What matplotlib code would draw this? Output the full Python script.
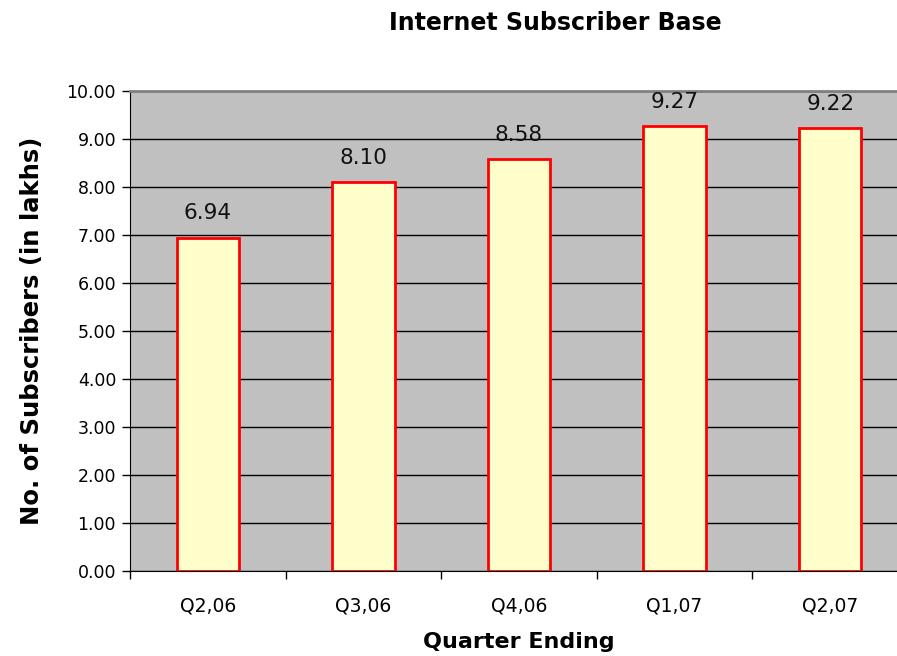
import matplotlib
matplotlib.use("Agg")
import matplotlib.pyplot as plt
import numpy as np

quarters = ["Q2,06", "Q3,06", "Q4,06", "Q1,07", "Q2,07"]
subscribers = [6.94, 8.10, 8.58, 9.27, 9.22]

plt.rcParams["font.family"] = "DejaVu Sans"

fig = plt.figure(figsize=(8.97, 6.56), dpi=100)
ax = fig.add_axes([130 / 897, 85 / 656, 778 / 897, 480 / 656])
ax.set_facecolor("#C0C0C0")

x = np.arange(len(quarters))
ax.bar(x, subscribers, width=0.4, color="#FFFFCC", edgecolor="#FF0000",
       linewidth=2, zorder=3)

# value labels above each bar
for xi, v in zip(x, subscribers):
    ax.text(xi, v + 0.3, "%.2f" % v, ha="center", va="bottom",
            fontsize=15.5, color="#111111", zorder=4)

ax.set_xlim(-0.5, len(quarters) - 0.5)
ax.set_ylim(0, 10)
ax.set_yticks(np.arange(0, 10.01, 1))
ax.set_yticklabels(["%.2f" % t for t in np.arange(0, 10.01, 1)], fontsize=12.5)
ax.set_xticks(x)
ax.set_xticklabels(quarters, fontsize=13.5)
ax.set_xticks(np.arange(-0.5, len(quarters), 1), minor=True)
ax.tick_params(axis="x", which="major", length=0, pad=18)
ax.tick_params(axis="x", which="minor", length=6, width=1, direction="out")
ax.tick_params(axis="y", length=6, width=1, direction="out", pad=4)

ax.grid(axis="y", color="black", linewidth=1, zorder=1)
ax.set_axisbelow(True)

for s in ("top", "right"):
    ax.spines[s].set_color("#808080")
    ax.spines[s].set_linewidth(2)
ax.spines["left"].set_color("black")
ax.spines["bottom"].set_color("black")

ax.set_xlabel("Quarter Ending", fontsize=16, fontweight="bold", labelpad=12)
ax.set_ylabel("No. of Subscribers (in lakhs)", fontsize=17.5,
              fontweight="bold", labelpad=16)
fig.text(555 / 897, 1 - 23 / 656, "Internet Subscriber Base", ha="center",
         va="center", fontsize=17, fontweight="bold")

fig.savefig("out.png", dpi=100)
